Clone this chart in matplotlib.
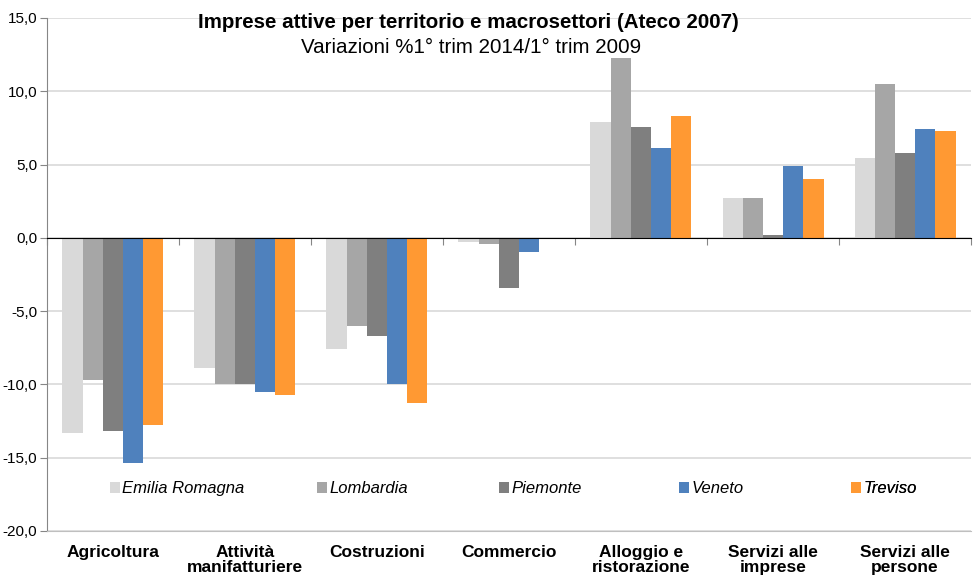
import numpy as np
import matplotlib.pyplot as plt
from matplotlib.ticker import FuncFormatter

plt.rcParams['font.family'] = ['Liberation Sans', 'DejaVu Sans']

categories = ['Agricoltura', 'Attività\nmanifatturiere', 'Costruzioni', 'Commercio',
              'Alloggio e\nristorazione', 'Servizi alle\nimprese', 'Servizi alle\npersone']
regions = ['Emilia Romagna', 'Lombardia', 'Piemonte', 'Veneto', 'Treviso']
colors = ['#D9D9D9', '#A6A6A6', '#7F7F7F', '#4F81BD', '#FF9933']

emilia = [-13.3, -8.9, -7.6, -0.25, 7.9, 2.75, 5.45]
lombardia = [-9.7, -10.0, -6.0, -0.45, 12.3, 2.75, 10.5]
piemonte = [-13.2, -10.0, -6.7, -3.4, 7.55, 0.2, 5.8]
veneto = [-15.35, -10.5, -10.0, -1.0, 6.1, 4.9, 7.4]
treviso = [-12.8, -10.7, -11.25, 0.0, 8.3, 4.0, 7.3]
series = [emilia, lombardia, piemonte, veneto, treviso]

fig = plt.figure(figsize=(9.75, 5.8), dpi=100)
ax = fig.add_axes([0.048, 0.0845, 0.948, 0.8845])

x = np.arange(len(categories))
w = 0.153
bars = []
for i, (vals, name, c) in enumerate(zip(series, regions, colors)):
    b = ax.bar(x + (i - 2) * w, vals, w, color=c, label=name, zorder=3)
    bars.append(b)

ax.set_xlim(-0.5, len(categories) - 0.5)
ax.set_ylim(-20, 15)
ax.set_yticks(np.arange(-20, 16, 5))
ax.yaxis.set_major_formatter(FuncFormatter(lambda v, p: f'{v:.1f}'.replace('.', ',')))
ax.grid(axis='y', color='#D9D9D9', linewidth=1.2, zorder=0)
ax.tick_params(axis='y', labelsize=11, length=5, color='#868686', pad=2)
for s in ['top', 'right']:
    ax.spines[s].set_visible(False)
ax.spines['left'].set_color('#868686')
ax.spines['bottom'].set_color('#BFBFBF')
ax.set_xticks(x)
ax.set_xticklabels(categories, fontsize=12.5, fontweight='bold', va='top', linespacing=1.0)
ax.tick_params(axis='x', length=0, pad=10)

# zero line with category boundary ticks
zx = ax.secondary_xaxis(20 / 35)
zx.set_xticks(np.arange(-0.5, len(categories), 1.0))
zx.set_xticklabels([])
zx.tick_params(axis='x', direction='in', length=5, color='#868686')
zx.spines['bottom'].set_color('#868686')
zx.spines['bottom'].set_linewidth(1.2)
zx.set_zorder(4)

# legend entries placed one by one like the Excel layout
leg_x = [0.068, 0.2925, 0.489, 0.684, 0.870]
for b, name, lx in zip(bars, regions, leg_x):
    lg = ax.legend([b], [name], loc='center left', bbox_to_anchor=(lx, 0.082),
                   frameon=False, handlelength=0.6, handleheight=0.6, handletextpad=0.15,
                   borderaxespad=0, borderpad=0, prop={'style': 'italic', 'size': 12})
    ax.add_artist(lg)

fig.text(0.48, 0.961, 'Imprese attive per territorio e macrosettori (Ateco 2007)',
         ha='center', va='center', fontsize=14.8, fontweight='bold')
fig.text(0.483, 0.918, 'Variazioni %1° trim 2014/1° trim 2009',
         ha='center', va='center', fontsize=14.8)

fig.savefig('out.png', dpi=100)
